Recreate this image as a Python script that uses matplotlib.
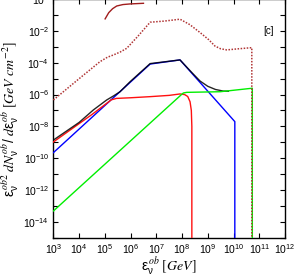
import matplotlib
matplotlib.use("Agg")
import matplotlib.pyplot as plt
import numpy as np

plt.rcParams['mathtext.fontset'] = 'stix'
plt.rcParams['mathtext.default'] = 'regular'
plt.rcParams['font.family'] = ['Liberation Sans', 'DejaVu Sans']

# log10(E) and log10(flux) values
brown_x = [5.01, 5.15, 5.3, 5.46, 5.7, 5.98, 6.5]
brown_y = [-1.24, -0.85, -0.6, -0.43, -0.34, -0.30, -0.26]

dot_x = [3.0, 4.0, 4.81, 5.1, 5.33, 5.6, 5.85, 6.3, 6.76, 7.3, 7.92, 8.3, 8.7, 9.03, 9.28, 9.5, 9.74, 10.2, 10.71, 10.71]
dot_y = [-6.34, -5.0, -3.93, -3.65, -3.51, -3.32, -3.09, -2.3, -1.45, -1.38, -1.26, -1.6, -2.1, -2.54, -2.95, -3.12, -3.19, -3.12, -3.05, -16]

blue_x = [3.0, 6.76, 7.92, 10.05, 10.05]
blue_y = [-9.65, -4.08, -3.82, -7.70, -16]

red_x = [3.0, 4.5, 5.07, 5.25, 5.45, 6.0, 6.76, 7.5, 7.92, 8.1, 8.22, 8.31, 8.36, 8.38, 8.38]
red_y = [-8.98, -7.25, -6.55, -6.33, -6.24, -6.2, -6.13, -6.05, -5.96, -6.0, -6.12, -6.45, -7.0, -8.0, -16]

green_x = [3.0, 7.99, 8.05, 8.18, 9.48, 10.73, 10.73]
green_y = [-13.32, -5.98, -5.9, -5.86, -5.82, -5.60, -16]

black_x = [3.0, 4.0, 4.55, 5.07, 5.33, 5.59, 5.98, 6.76, 7.92, 8.4, 8.7, 9.0, 9.3, 9.6, 9.8]
black_y = [-8.86, -7.75, -6.97, -6.34, -6.09, -5.82, -5.19, -4.05, -3.82, -4.65, -5.15, -5.48, -5.68, -5.78, -5.79]

x_ticks = list(range(3, 13))
y_ticks = list(range(-14, 1, 2))

fig = plt.figure(figsize=(3.0, 2.79), dpi=100)
ax = fig.add_axes([0.178, 0.148, 0.772, 0.855])

def P(xs, ys):
    return 10.0 ** np.array(xs), 10.0 ** np.array(ys)

lw = 1.0
ax.plot(*P(blue_x, blue_y), color='#0000ff', lw=lw, zorder=3)
ax.plot(*P(red_x, red_y), color='#ff1010', lw=lw, zorder=3)
ax.plot(*P(black_x, black_y), color='#000000', lw=lw, zorder=4, alpha=0.85)
ax.plot(*P(green_x, green_y), color='#00ee00', lw=lw, zorder=5)
ax.plot(*P(dot_x, dot_y), color='#b03535', lw=1.1, ls=(0, (1, 1)), zorder=6)
ax.plot(*P(brown_x, brown_y), color='#a01c1c', lw=lw, zorder=3)

ax.set_xscale('log')
ax.set_yscale('log')
ax.set_xlim(1e3, 1e12)
ax.set_ylim(1e-15, 1e0)

ax.set_xticks([10.0 ** k for k in x_ticks])
ax.set_xticklabels([r'$10^{%d}$' % k for k in x_ticks])
ax.set_yticks([10.0 ** k for k in range(-15, 1)])
ax.set_yticklabels([r'$10^{%d}$' % k if k in y_ticks else '' for k in range(-15, 1)])
ax.xaxis.set_minor_locator(matplotlib.ticker.NullLocator())
ax.yaxis.set_minor_locator(matplotlib.ticker.NullLocator())
ax.tick_params(which='both', direction='in', top=True, right=True, length=3.5, width=0.8,
               labelsize=7.5, pad=3)

for s in ax.spines.values():
    s.set_linewidth(1.0)

ax.text(0.95, 0.865, '[c]', transform=ax.transAxes, fontsize=7, ha='right', va='center')

ax.set_xlabel(r'$\varepsilon_{\nu}^{\,\mathit{ob}}\ \mathit{[GeV]}$', fontsize=10, labelpad=0)
ax.set_ylabel(r'$\varepsilon_{\nu}^{\,\mathit{ob2}}\ \mathit{dN}_{\nu}^{\,\mathit{ob}}/\ \mathit{d}\varepsilon_{\nu}^{\,\mathit{ob}}\ \mathit{[GeV\ cm^{-2}]}$',
              fontsize=10, labelpad=1)

fig.savefig('out.png', dpi=100)
